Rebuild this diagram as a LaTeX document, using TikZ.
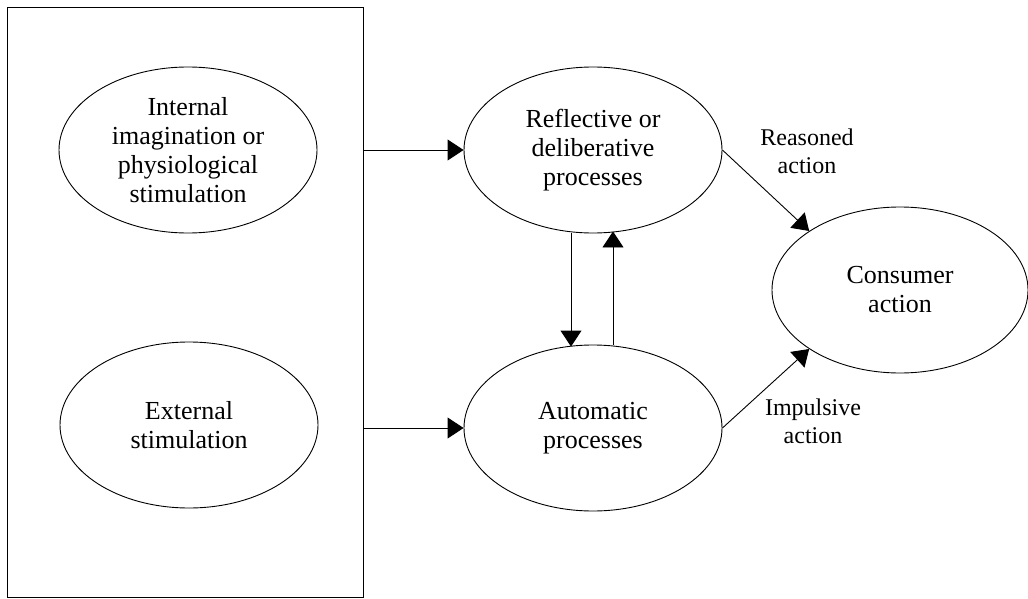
\documentclass[tikz,border=0pt]{standalone}
\usepackage{fontspec}
\setmainfont{Liberation Serif}
\usetikzlibrary{shapes.geometric,arrows.meta}
\begin{document}
\begin{tikzpicture}[x=1pt,y=-1pt,
  oval/.style={draw,line width=0.9pt,ellipse,minimum width=258pt,minimum height=166pt,inner sep=0pt,align=center,font=\fontsize{26}{29}\selectfont},
  lbl/.style={align=center,font=\fontsize{24}{28}\selectfont},
  conn/.style={line width=0.9pt,-{Triangle[length=16pt,width=21pt]}}]
\useasboundingbox (0,0) rectangle (1028,599);
\node[draw,line width=0.9pt,minimum width=356pt,minimum height=590pt,inner sep=0pt] (box) at (185,302) {};
\node[oval] (internal) at (188,150) {Internal\\imagination or\\physiological\\stimulation};
\node[oval] (external) at (189,425) {External\\stimulation};
\node[oval] (refl) at (593,150) {Reflective or\\deliberative\\processes};
\node[oval] (auto) at (593,428) {Automatic\\processes};
\node[oval,minimum width=256pt] (cons) at (900,290) {Consumer\\action};
\draw[conn] (box.east |- refl.west) -- (refl.west);
\draw[conn] (box.east |- auto.west) -- (auto.west);
\draw[conn] ([xshift=-22pt]refl.south) -- ([xshift=-22pt,yshift=-2pt]auto.north);
\draw[conn] ([xshift=20pt]auto.north) -- ([xshift=20pt,yshift=2pt]refl.south);
\draw[conn] (refl.east) -- (cons.north west);
\draw[conn] (auto.east) -- (cons.south west);
\node[lbl] (reasoned) at (807,151) {Reasoned\\action};
\node[lbl] (impulsive) at (813,421) {Impulsive\\action};
\end{tikzpicture}
\end{document}
